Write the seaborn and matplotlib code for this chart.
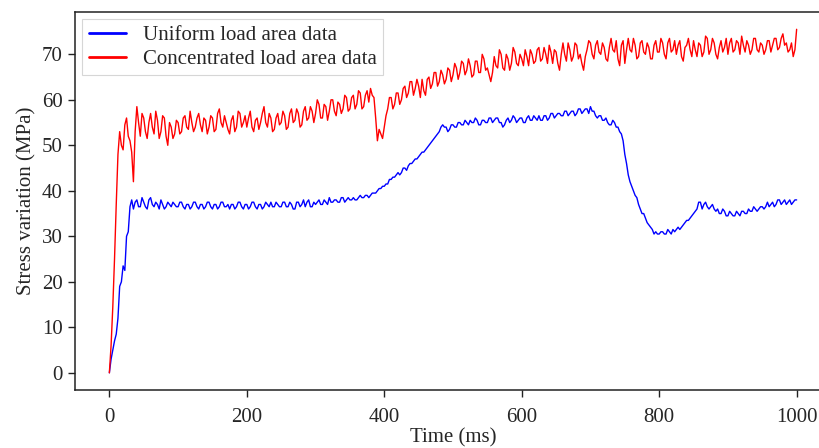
import numpy as np
import pandas as pd
import matplotlib
matplotlib.use("Agg")
import matplotlib.pyplot as plt
import seaborn as sns

# Sample times (ms), one reading every 2.5 ms
time_ms = np.arange(0, 1000.1, 2.5)

# Stress readings (MPa)
uniform = [
    0, 3, 5, 7, 8.5, 12, 19, 20, 23.5, 22.5,
    30, 31, 36.5, 38, 36, 37.5, 38, 36.5, 36.5, 38.5,
    37.5, 36.5, 36, 38, 38.5, 37, 36.5, 37.5, 37, 36,
    38, 37, 36, 36.5, 37.5, 37, 36.5, 37.5, 37, 36.5,
    36.5, 37.5, 37.5, 36.5, 36, 37, 37, 36, 36.5, 37.5,
    37.5, 36.5, 36, 37, 37, 36, 36.5, 37.5, 37.5, 36.5,
    36, 37, 37, 36, 36.5, 37.5, 37.5, 36.5, 36.5, 37,
    36, 37, 37, 36, 36.5, 37.5, 37.5, 36.5, 36, 37,
    37, 36, 36.5, 37.5, 37.5, 36.5, 36, 37, 37, 36,
    36.5, 37.5, 37, 36.5, 37.5, 36.5, 36.5, 37.5, 37, 36.5,
    36.5, 37.5, 37.5, 36.5, 36.5, 37.5, 37, 36, 36, 37.5,
    37.5, 36.5, 37, 38, 36.5, 37.5, 38, 36.5, 36.5, 37.5,
    37, 37.5, 38, 37, 37, 38, 37.5, 37, 38.5, 37.5,
    37.5, 38, 38, 37.5, 37.5, 38.5, 38.5, 37.5, 38, 38.5,
    38, 38, 38.5, 38, 38, 38.5, 39, 38.5, 38.5, 39,
    39, 38.5, 39, 39.5, 39.5, 39.5, 40, 40.5, 40.5, 41,
    41, 41.5, 41.5, 42.5, 42.5, 43, 43, 43.5, 44, 43.5,
    44, 45, 45, 44.5, 45.5, 46, 46, 46.5, 47, 47,
    47.5, 48, 48.5, 48.5, 49, 49.5, 50, 50.5, 51, 51.5,
    52, 52.5, 53, 54, 54.5, 54, 54, 53, 53.5, 54.5,
    54.5, 54, 54, 55, 55, 54.5, 54.5, 55.5, 55, 54.5,
    55.5, 55, 55, 56, 55.5, 54.5, 54.5, 55.5, 55.5, 55,
    55, 56, 56, 55, 55.5, 56, 56, 55, 55, 54,
    54.5, 55.5, 56, 55, 55.5, 56.5, 56, 55, 55.5, 56,
    56, 55, 55, 56, 56.5, 55.5, 55.5, 56.5, 56, 55.5,
    56.5, 55.5, 55.5, 56.5, 56.5, 55.5, 56, 57, 57, 56,
    56.5, 57, 57, 56.5, 56.5, 57.5, 57.5, 56.5, 57, 57.5,
    57.5, 56.5, 57, 58, 58, 57, 57.5, 58, 58, 57,
    58.5, 57.5, 57.5, 56.5, 56, 56.5, 56.5, 55.5, 55.5, 56,
    55, 54.5, 54.5, 55.5, 55, 54, 54, 53, 52.5, 51,
    48, 46, 43.5, 42, 41, 40, 39, 38.5, 37, 36,
    35, 35, 34, 33, 32.5, 32, 31.5, 30.5, 31, 30.5,
    30.5, 31, 31, 30.5, 30.5, 31.5, 31, 30.5, 31.5, 31,
    31.5, 32, 31.5, 32, 32.5, 33, 33.5, 33.5, 34, 34.5,
    35, 35.5, 36, 37.5, 37.5, 36, 37, 37.5, 36.5, 36,
    36.5, 37, 36, 35.5, 36, 35, 35, 36, 35.5, 34.5,
    34.5, 35.5, 35, 34.5, 34.5, 35.5, 35, 34.5, 35.5, 35.5,
    35, 35, 36, 35.5, 35.5, 36.5, 36, 35.5, 36, 36.5,
    36.5, 36, 36.5, 37.5, 36.5, 37, 37.5, 36.5, 37, 38,
    38, 37, 37.5, 38, 37, 37.5, 38, 37, 37.5, 38,
    38,
]

concentrated = [
    0, 6, 14.5, 25, 37, 48, 53, 50, 49, 54.5,
    56, 52, 51, 48.5, 42, 53, 58.5, 55, 52, 57,
    56, 53, 51.5, 55, 57, 54, 52.5, 57.5, 55.5, 51.5,
    53, 56.5, 56, 52, 50, 55, 54, 51.5, 52.5, 55.5,
    55, 52.5, 53, 56, 56.5, 54, 53.5, 57.5, 55, 53,
    54, 56, 57, 54.5, 53, 56, 55.5, 52.5, 54, 56.5,
    56, 53, 53.5, 57, 58, 55, 54, 56.5, 55, 53.5,
    52.5, 55.5, 56.5, 53, 54, 57.5, 57, 54, 55, 56.5,
    54, 56, 57.5, 54, 53, 55.5, 56, 53.5, 55, 57,
    58.5, 55, 54, 57, 56, 53, 53.5, 56, 57, 54.5,
    55, 57.5, 56.5, 53.5, 54, 57, 58, 55, 55.5, 58,
    57, 54, 54.5, 57.5, 58.5, 55.5, 56, 58.5, 57.5, 55,
    57, 60, 59, 56, 56, 59, 58.5, 55.5, 57.5, 60,
    60, 57.5, 56.5, 59.5, 59, 57, 58, 61, 60.5, 57.5,
    58, 60.5, 61, 58, 59, 62, 61.5, 58, 58.5, 61,
    62, 59.5, 62.5, 61, 60.5, 56, 51, 53.5, 52.5, 51.5,
    54, 56.5, 58, 60.5, 60.5, 58, 59, 61.5, 61.5, 59,
    60, 62.5, 63, 60.5, 61.5, 64, 64, 61, 62.5, 64.5,
    63, 60.5, 64.5, 62, 61, 64.5, 65, 62.5, 63.5, 66,
    66, 63, 64, 66.5, 65.5, 63.5, 64.5, 67, 66.5, 64,
    65.5, 68, 67, 64.5, 66, 68.5, 68, 65.5, 66.5, 69,
    67.5, 65, 65.5, 68.5, 68.5, 66, 66, 70, 69, 66.5,
    67, 65.5, 64, 66, 69.5, 67.5, 67, 71, 70, 67,
    66.5, 70, 69, 66.5, 68, 71.5, 70.5, 68, 67.5, 70,
    69, 67.5, 71, 69.5, 67.5, 71, 70, 68, 68.5, 71,
    71.5, 68.5, 69, 71.5, 70, 68, 72, 70.5, 68, 71,
    70.5, 68, 66.5, 70, 72.5, 70, 68.5, 72.5, 71, 68.5,
    69.5, 72.5, 72, 69, 70, 68, 66.5, 69.5, 71, 73,
    72.5, 70, 69, 72, 73, 70.5, 70, 72.5, 71.5, 69,
    68.5, 71.5, 73.5, 71, 70.5, 73, 69, 67.5, 72, 73,
    68, 71, 73.5, 71, 70.5, 73.5, 72, 69, 69.5, 72.5,
    73, 70.5, 70, 72.5, 71.5, 69, 69, 72, 73, 70.5,
    70.5, 73.5, 72.5, 70, 69, 72.5, 73.5, 70.5, 71, 73,
    70, 72, 73, 69.5, 68.5, 71.5, 72, 73.5, 71, 69.5,
    73, 71, 69.5, 72.5, 72, 69.5, 70.5, 74, 73.5, 70,
    71, 73.5, 72.5, 70, 69, 71.5, 73, 70.5, 71.5, 73.5,
    70, 72.5, 73.5, 70.5, 71, 73, 72.5, 70, 74, 72,
    70.5, 73, 72, 70, 71, 73.5, 73.5, 71, 70.5, 72.5,
    72, 70, 71, 73, 73, 70.5, 72, 73.5, 73.5, 71,
    71.5, 73.5, 74.5, 72, 72.5, 70.5, 71, 72.5, 69.5, 71,
    75.5,
]

series_names = ["Uniform load area data", "Concentrated load area data"]

df = pd.concat([
    pd.DataFrame({"time": time_ms, "stress": uniform, "series": series_names[0]}),
    pd.DataFrame({"time": time_ms, "stress": concentrated, "series": series_names[1]}),
])

sns.set_style("ticks")
plt.rcParams['font.family'] = ['Liberation Serif', 'DejaVu Serif']

fig = plt.figure(figsize=(8.19, 4.48), dpi=100)
ax = fig.add_axes([75 / 819, 58 / 448, 756 / 819, 378 / 448])

sns.lineplot(data=df, x="time", y="stress", hue="series",
             palette={series_names[0]: "#0000ff", series_names[1]: "#ff0000"},
             linewidth=1, ax=ax)

ax.set_xlim(-50, 1050)
ax.set_ylim(-3.78, 79.3)
ax.set_xticks([0, 200, 400, 600, 800, 1000])
ax.set_yticks([0, 10, 20, 30, 40, 50, 60, 70])
ax.tick_params(labelsize=15, length=5, width=1, color="#222222")
ax.tick_params(axis="x", pad=8)
ax.tick_params(axis="y", pad=4)
for s in ax.spines.values():
    s.set_color("#222222")
    s.set_linewidth(1.1)

ax.set_xlabel("Time (ms)", fontsize=15, labelpad=1)
ax.set_ylabel("Stress variation (MPa)", fontsize=15, labelpad=4)

leg = ax.legend(loc="upper left", fontsize=15, fancybox=False,
                edgecolor="#cccccc", borderaxespad=0.35,
                labelspacing=0.2, borderpad=0.3, handlelength=1.8)
leg.get_frame().set_linewidth(0.8)
for line in leg.get_lines():
    line.set_linewidth(2)

fig.savefig("out.png", dpi=100)
